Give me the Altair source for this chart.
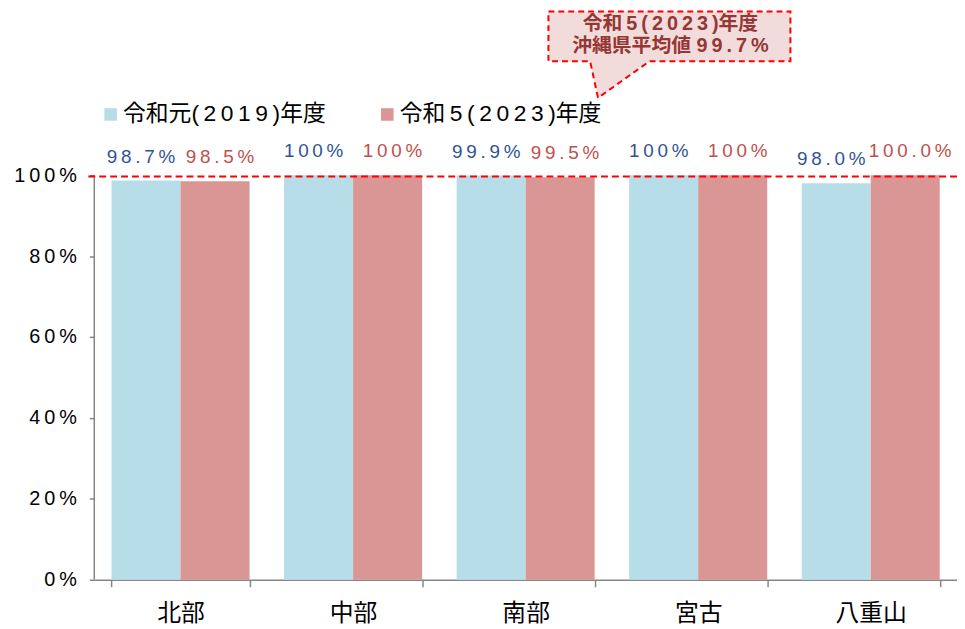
import altair as alt
import pandas as pd

regions = ["北部", "中部", "南部", "宮古", "八重山"]
legend_names = ["令和元(\u20092\u20090\u20091\u20099\u2009)年度", "令和\u20095\u2009(\u20092\u20090\u20092\u20093\u2009)年度"]
v2019 = [98.7, 100, 99.9, 100, 98.0]
v2023 = [98.5, 100, 99.5, 100, 100.0]
lab2019 = ["98.7%", "100%", "99.9%", "100%", "98.0%"]
lab2023 = ["98.5%", "100%", "99.5%", "100%", "100.0%"]
avg_value = 99.7
callout_lines = ["令和\u20095\u2009(\u20092\u20090\u20092\u20093\u2009)年度",
                 "沖縄県平均値 9\u20099\u2009.\u20097\u2009%"]
y_ticks = [0, 20, 40, 60, 80, 100]

bar_colors = ["#b7dee8", "#d99694"]
text_colors = ["#2f5496", "#c0504d"]
axis_gray = "#868686"

def spaced(s):
    return "\u2009".join(list(s))

df = pd.DataFrame({
    "region": regions * 2,
    "series": [legend_names[0]] * 5 + [legend_names[1]] * 5,
    "value": v2019 + v2023,
    "label": [spaced(s) for s in lab2019 + lab2023],
})
df19 = df[df["series"] == legend_names[0]]
df23 = df[df["series"] == legend_names[1]]

W, H = 870, 574
ymax = 100 * H / 408.0

label_expr = ""
for t in y_ticks:
    label_expr += f"datum.value == {t} ? '{spaced(str(t) + '%')}' : "
label_expr += "''"

xenc = alt.X("region:N", sort=regions,
             scale=alt.Scale(paddingInner=0.2, paddingOuter=0.1),
             axis=alt.Axis(title=None, labelAngle=0, labelFontSize=24,
                           labelFont="Noto Sans CJK JP", labelColor="#000000",
                           tickBand="extent", tickSize=7, labelPadding=15,
                           domainColor=axis_gray, tickColor=axis_gray,
                           domainWidth=1.5, tickWidth=1.5))
yenc = alt.Y("value:Q", scale=alt.Scale(domain=[0, ymax], nice=False, zero=True),
             axis=alt.Axis(title=None, values=y_ticks, labelExpr=label_expr,
                           labelFontSize=20, labelFont="Liberation Sans",
                           labelColor="#000000", tickSize=5, labelPadding=13,
                           domain=False, tickColor=axis_gray,
                           tickWidth=1.5, grid=False))
xoff = alt.XOffset("series:N", sort=legend_names)

bars = alt.Chart(df).mark_bar().encode(
    x=xenc, xOffset=xoff, y=yenc,
    color=alt.Color("series:N", sort=legend_names,
                    scale=alt.Scale(domain=legend_names, range=bar_colors),
                    legend=alt.Legend(orient="none", legendX=5, legendY=93,
                                      direction="horizontal", title=None,
                                      symbolType="square", symbolSize=160,
                                      symbolStrokeWidth=0, labelFontSize=23,
                                      labelFont="Liberation Sans, Noto Sans CJK JP",
                                      labelColor="#000000", columnPadding=50,
                                      labelOffset=1, labelLimit=400)),
)

def label_layer(d, color, dx):
    return alt.Chart(d).mark_text(dy=-24, dx=dx, fontSize=19, font="Liberation Sans",
                                  baseline="middle", color=color).encode(
        x=alt.X("region:N", sort=regions), xOffset=xoff,
        y=alt.Y("value:Q"), text="label:N")

texts19 = label_layer(df19, text_colors[0], -5)
texts23 = label_layer(df23, text_colors[1], 5)

yaxis_line = alt.Chart(pd.DataFrame({"a": [0], "b": [100]})).mark_rule(
    color=axis_gray, strokeWidth=1.5).encode(
    y="a:Q", y2="b:Q", x=alt.value(0))

rule = alt.Chart(pd.DataFrame({"avg": [avg_value]})).mark_rule(
    color="#ff0000", strokeDash=[7, 4], strokeWidth=2).encode(
    y="avg:Q", x=alt.value(-6), x2=alt.value(W))

path = "M458,1 L702,1 L702,51 L560,51 L508,88 L500,51 L458,51 Z"
callout = alt.Chart(pd.DataFrame({"k": [0]})).mark_point(
    shape=path, size=4, filled=True, fill="#f2dcdb", stroke="#ff0000",
    strokeWidth=2, strokeDash=[6, 4], opacity=1, fillOpacity=1,
    strokeOpacity=1).encode(x=alt.value(0), y=alt.value(0))

callout_text = alt.Chart(pd.DataFrame({"k": [0]})).mark_text(
    text=callout_lines, fontSize=20, fontWeight="bold", color="#953735",
    font="Liberation Sans, Noto Sans CJK JP", lineHeight=22,
    baseline="middle", align="center").encode(x=alt.value(581), y=alt.value(14))

chart = alt.layer(bars, texts19, texts23, yaxis_line, rule, callout, callout_text).resolve_scale(
    color="independent"
).properties(
    width=W, height=H,
    autosize=alt.AutoSizeParams(type="none"),
    padding={"left": 87, "top": 0, "right": 0, "bottom": 46},
).configure_view(stroke=None)

chart.save("out.html", embed_options={"renderer": "svg", "actions": False})
